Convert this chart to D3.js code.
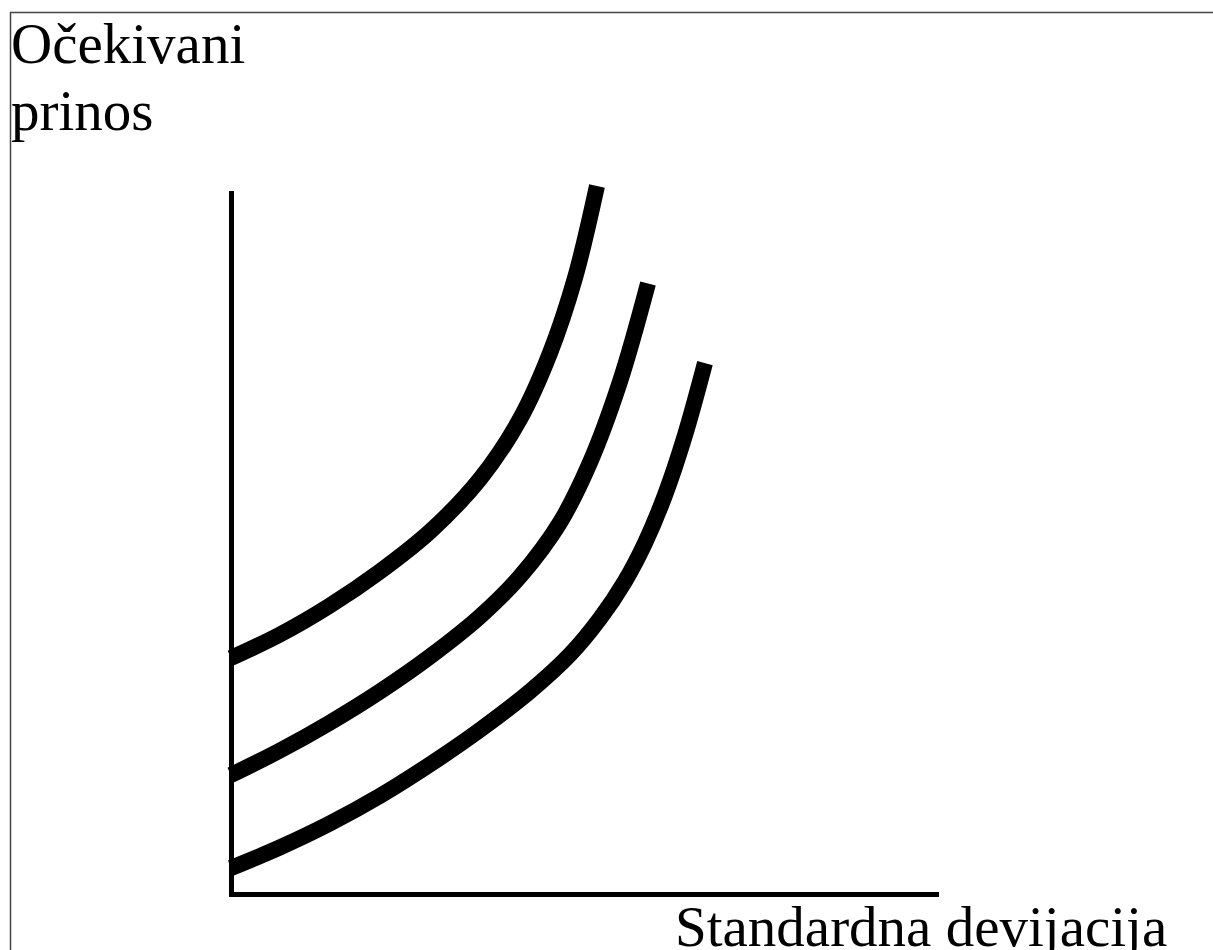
<!DOCTYPE html>
<meta charset="utf-8">
<style>
body { margin: 0; background: #fff; }
svg { display: block; }
.label { font-family: "Liberation Serif", "Times New Roman", serif; font-size: 57px; fill: #000; }
.curve { fill: none; stroke: #000; stroke-width: 16; stroke-linecap: butt; stroke-linejoin: round; }
.axis path { stroke: #000; stroke-width: 5; stroke-linecap: square; }
</style>
<svg width="1213" height="950"></svg>
<script src="https://d3js.org/d3.v7.min.js"></script>
<script>

// krivulje indiferencije: standardna devijacija (x) i očekivani prinos (y)
var sigma1 = [0, 0.695, 1.404, 2.113, 2.823, 3.532, 4.099, 4.525, 4.879, 5.191];
var ret1   = [3.367, 3.702, 4.116, 4.601, 5.171, 5.920, 6.776, 7.718, 8.787, 10.100];

var sigma2 = [0, 0.695, 1.404, 2.113, 2.823, 3.532, 4.099, 4.667, 5.092, 5.518, 5.915];
var ret2   = [1.698, 2.047, 2.446, 2.889, 3.388, 3.959, 4.529, 5.300, 6.155, 7.311, 8.709];

var sigma3 = [0, 0.695, 1.404, 2.113, 2.823, 3.532, 4.241, 4.809, 5.234, 5.589, 5.872, 6.156, 6.440, 6.723];
var ret3   = [0.371, 0.665, 1.007, 1.399, 1.849, 2.341, 2.890, 3.415, 3.929, 4.464, 5.006, 5.690, 6.546, 7.573];

var yLabel = ["Očekivani", "prinos"];
var xLabel = "Standardna devijacija";

var svg = d3.select("svg"),
    width = +svg.attr("width"),
    height = +svg.attr("height");

var x = d3.scaleLinear().domain([0, 10]).range([231, 936]);
var y = d3.scaleLinear().domain([0, 10]).range([894, 193]);

// okvir (gore i lijevo)
svg.append("path")
    .attr("d", "M10.5," + height + "V12.5H" + width)
    .attr("fill", "none")
    .attr("stroke", "#444")
    .attr("stroke-width", 1.5);

// osi bez podjela
svg.append("g")
    .attr("class", "axis")
    .attr("transform", "translate(0," + y(0) + ")")
    .call(d3.axisBottom(x).ticks(0).tickSizeOuter(0));

svg.append("g")
    .attr("class", "axis")
    .attr("transform", "translate(" + x(0) + ",0)")
    .call(d3.axisLeft(y).ticks(0).tickSizeOuter(0));

svg.selectAll(".axis text").remove();

var line = d3.line()
    .x(d => x(d[0]))
    .y(d => y(d[1]))
    .curve(d3.curveCatmullRom.alpha(0.5));

var curves = [d3.zip(sigma1, ret1), d3.zip(sigma2, ret2), d3.zip(sigma3, ret3)];

svg.append("g")
  .selectAll("path")
  .data(curves)
  .enter()
  .append("path")
    .attr("class", "curve")
    .attr("d", line);

// natpisi
svg.append("text")
    .attr("class", "label")
    .selectAll("tspan")
    .data(yLabel)
    .enter()
    .append("tspan")
      .attr("x", 11)
      .attr("y", (d, i) => 63 + i * 67)
      .text(d => d);

svg.append("text")
    .attr("class", "label")
    .attr("x", 675)
    .attr("y", 946)
    .text(xLabel);

</script>
